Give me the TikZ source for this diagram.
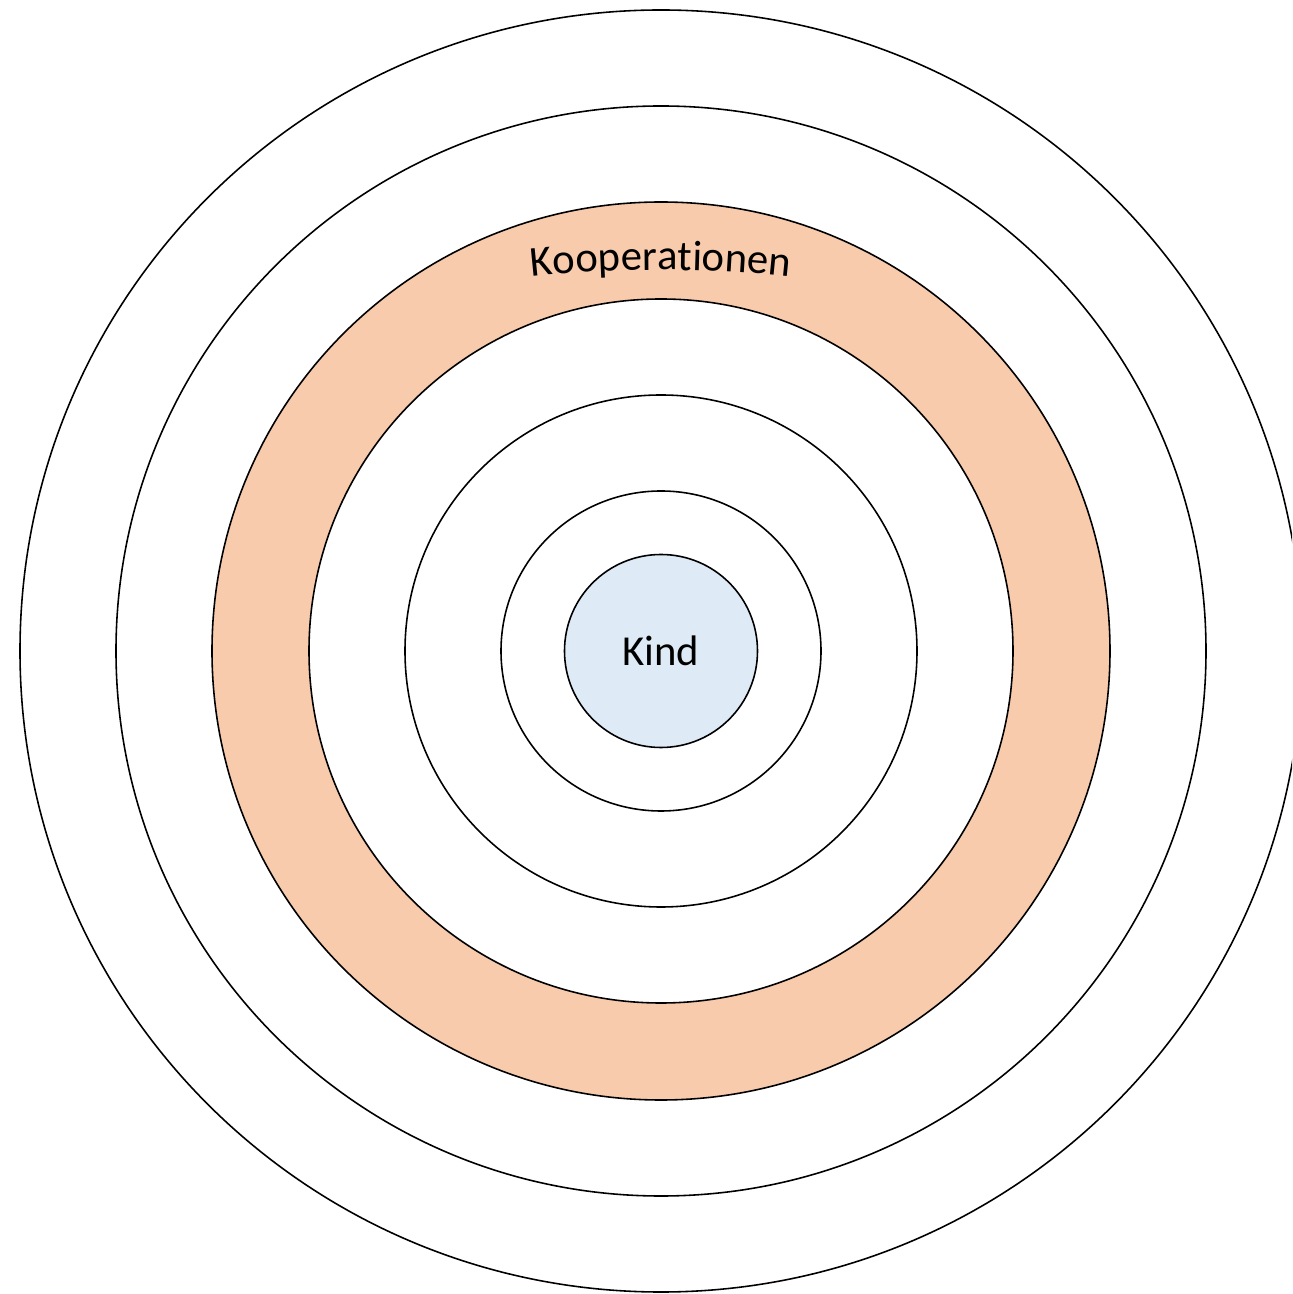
\documentclass[tikz,border=0pt]{standalone}
\usepackage{fontspec}
\setmainfont{Carlito}
\usetikzlibrary{decorations.text}
\definecolor{peach}{RGB}{248,203,173}
\definecolor{skyfill}{RGB}{222,235,247}
\tikzset{
  ring/.style={circle,draw=black,line width=0.9pt,fill=#1,inner sep=0pt},
  ring/.default=white,
  big label/.style={font=\fontsize{24.3}{28}\selectfont},
}
\begin{document}
\begin{tikzpicture}[x=0.2mm,y=0.2mm]
  \useasboundingbox (-661,-643) rectangle (631,651);
  \clip (-661,-643) rectangle (631,651);
  \coordinate (c) at (0,0);
  % rings, outermost first
  \foreach \r/\c/\n in {641/white/r6,545/white/r5,449/peach/r4,352/white/r3,256/white/r2,160/white/r1}{
    \node[ring=\c,minimum size=\r*0.4mm] (\n) at (c) {};
  }
  \node[ring=skyfill,minimum size=38.6mm,big label] (kind) at (c) {Kind};
  % arched label in the coloured band
  \coordinate (arcc) at (0,-819);
  \path[decorate,decoration={text along path,text align=center,
      text={|\fontsize{24.3}{28}\selectfont|Kooperationen}}]
    ([shift={(100:240mm)}]arcc) arc[start angle=100,end angle=80,radius=240mm];
\end{tikzpicture}
\end{document}
